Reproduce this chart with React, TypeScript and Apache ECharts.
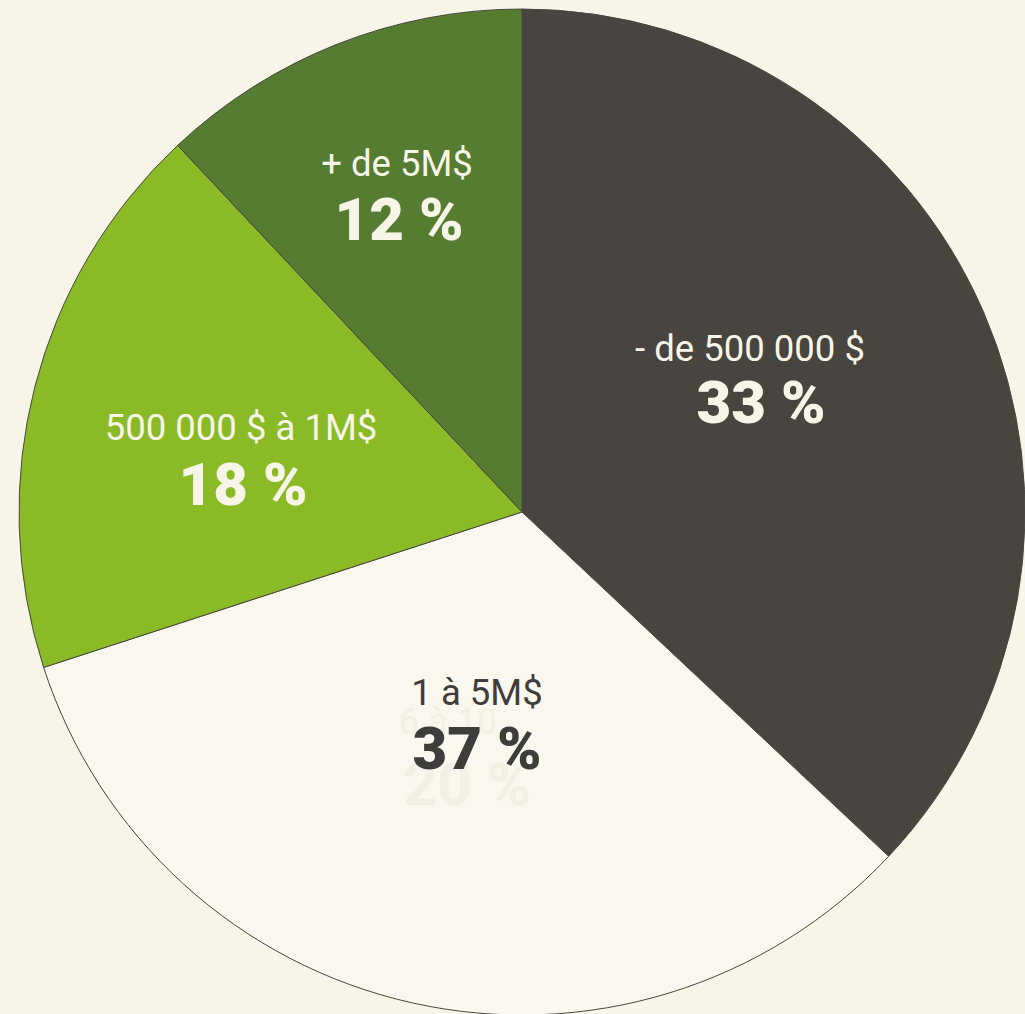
import React, { useEffect, useRef } from "react";
import * as echarts from "echarts";

const categories = ["- de 500 000 $", "1 à 5M$", "500 000 $ à 1M$", "+ de 5M$"];
const sliceValues = [37, 33, 18, 12];
const percentLabels = ["33 %", "37 %", "18 %", "12 %"];
const sliceColors = ["#48443f", "#faf8ee", "#8aba25", "#557c30"];
const textColors = ["#f7f5e8", "#3f3d3b", "#f7f5e8", "#f7f5e8"];
const ghostLabels = ["6 à 10", "20 %"];

export default function App() {
  const ref = useRef<HTMLDivElement>(null);
  useEffect(() => {
    if (!ref.current) return;
    const chart = echarts.init(ref.current, null, { renderer: "svg" });
    const font = "Roboto";
    const labelPos = [
      { sx: 750, sy: 348, bx: 761, by: 402 },
      { sx: 477, sy: 692, bx: 477, by: 748 },
      { sx: 241, sy: 427, bx: 243, by: 484 },
      { sx: 397, sy: 163, bx: 399, by: 219 },
    ];
    const mk = (text: string, x: number, y: number, size: number, weight: number, fill: string, z: number) => ({
      type: "text",
      x,
      y,
      z,
      silent: true,
      style: {
        text,
        fontFamily: font,
        fontSize: size,
        fontWeight: weight,
        fill,
        align: "center",
        verticalAlign: "middle",
      },
    });
    const texts: any[] = [];
    texts.push(mk(ghostLabels[0], 448, 722, 36, 400, "#f2f0e4", 50));
    texts.push(mk(ghostLabels[1], 467, 784, 60, 700, "#f2f0e4", 50));
    categories.forEach((c, i) => {
      const p = labelPos[i];
      texts.push(mk(c, p.sx, p.sy, 36.5, 400, textColors[i], 60));
      texts.push(mk(percentLabels[i], p.bx, p.by, 60, 900, textColors[i], 60));
    });
    chart.setOption({
      animation: false,
      backgroundColor: "#f7f5e8",
      series: [
        {
          type: "pie",
          z: 1,
          center: [522, 512],
          radius: 503,
          startAngle: 90,
          clockwise: true,
          label: { show: false },
          labelLine: { show: false },
          emphasis: { disabled: true },
          itemStyle: { borderColor: "#4a4641", borderWidth: 1 },
          data: categories.map((c, i) => ({
            name: c,
            value: sliceValues[i],
            itemStyle: { color: sliceColors[i] },
          })),
        },
      ],
      graphic: { elements: texts },
    });
    return () => chart.dispose();
  }, []);
  return (
    <div
      ref={ref}
      style={{ position: "absolute", left: 0, top: 0, width: 1025, height: 1014 }}
    />
  );
}
